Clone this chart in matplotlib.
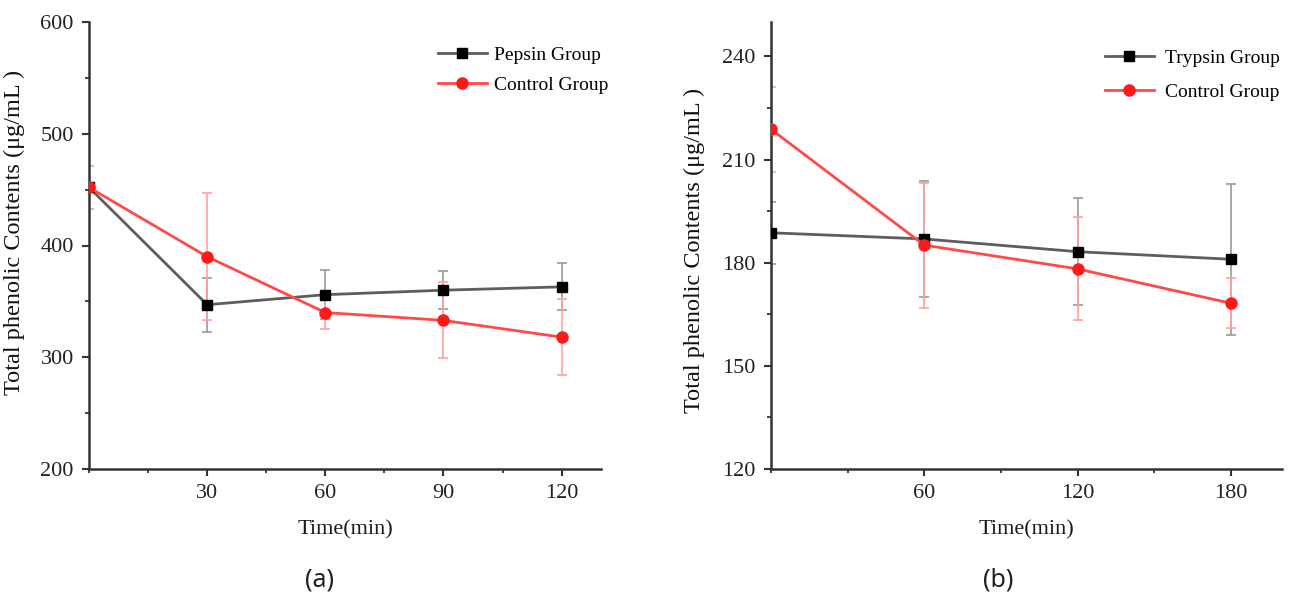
import numpy as np
import matplotlib.pyplot as plt
from matplotlib.ticker import MultipleLocator

# (a) pepsin digestion
time_a = [0, 30, 60, 90, 120]
pepsin = [452, 347, 356, 360, 363]
pepsin_err = [2, 24, 22, 17, 21]
control_a = [452, 390, 340, 333, 318]
control_a_err = [19, 57, 15, 34, 34]

# (b) trypsin digestion
time_b = [0, 60, 120, 180]
trypsin = [188.7, 186.9, 183.2, 181.0]
trypsin_err = [9, 17, 15.6, 22]
control_b = [218.8, 185.1, 178.2, 168.2]
control_b_err = [12.4, 18.2, 15, 7.3]

plt.rcParams['font.family'] = ['Liberation Serif', 'DejaVu Serif']

GRAY = '#5e5e5e'
RED = '#ff4a4a'
YLABEL = 'Total phenolic Contents (μg/mL )'

fig = plt.figure(figsize=(12.98, 6.04), dpi=100)
ax1 = fig.add_axes([89/1298, 1-469/604, 512/1298, 447/604])
ax2 = fig.add_axes([771/1298, 1-469/604, 511/1298, 447/604])


def draw(ax, t, y1, e1, y2, e2, name1):
    ax.errorbar(t, y1, yerr=e1, fmt='none', ecolor='#9a9a9a', elinewidth=1.2,
                capsize=3.5, capthick=1.2, zorder=2)
    ax.errorbar(t, y2, yerr=e2, fmt='none', ecolor='#ffa0a0', elinewidth=1.2,
                capsize=3.5, capthick=1.2, zorder=2)
    ax.plot(t, y1, color=GRAY, lw=2, marker='s', ms=7, mfc='black',
            mec='black', label=name1, zorder=3)
    ax.plot(t, y2, color=RED, lw=2, marker='o', ms=8, mfc='#ff1a1a',
            mec='#ff1a1a', label='Control Group', zorder=4)
    for s in ['top', 'right']:
        ax.spines[s].set_visible(False)
    for s in ['left', 'bottom']:
        ax.spines[s].set_linewidth(1.8)
        ax.spines[s].set_color('#333333')
    ax.tick_params(which='major', direction='out', length=5, width=1.5,
                   colors='#333333', labelsize=16, pad=6)
    ax.tick_params(which='major', labelcolor='#222222')
    ax.tick_params(which='minor', direction='out', length=3, width=1.3,
                   colors='#333333')
    ax.set_xlabel('Time(min)', fontsize=16, color='#1a1a1a', labelpad=12)


draw(ax1, time_a, pepsin, pepsin_err, control_a, control_a_err, 'Pepsin Group')
ax1.set_xlim(0, 130)
ax1.set_ylim(200, 600)
ax1.set_xticks([30, 60, 90, 120])
ax1.xaxis.set_minor_locator(MultipleLocator(15))
ax1.yaxis.set_major_locator(MultipleLocator(100))
ax1.yaxis.set_minor_locator(MultipleLocator(50))
ax1.set_ylabel(YLABEL, fontsize=17.5, color='#111111')
ax1.yaxis.set_label_coords(-0.125, 0.53)

draw(ax2, time_b, trypsin, trypsin_err, control_b, control_b_err, 'Trypsin Group')
ax2.set_xlim(0, 200)
ax2.set_ylim(120, 250)
ax2.set_xticks([60, 120, 180])
ax2.xaxis.set_minor_locator(MultipleLocator(30))
ax2.set_yticks([120, 150, 180, 210, 240])
ax2.yaxis.set_minor_locator(MultipleLocator(15))
ax2.set_ylabel(YLABEL, fontsize=17.5, color='#111111')
ax2.yaxis.set_label_coords(-0.13, 0.49)

ax1.legend(loc='upper left', bbox_to_anchor=(438/1298, 1-46/604),
           bbox_transform=fig.transFigure, frameon=False, fontsize=14,
           handlelength=2.5, handletextpad=0.4, labelspacing=0.65,
           borderpad=0, borderaxespad=0)
ax2.legend(loc='upper left', bbox_to_anchor=(1105/1298, 1-49/604),
           bbox_transform=fig.transFigure, frameon=False, fontsize=14,
           handlelength=2.5, handletextpad=0.6, labelspacing=0.85,
           borderpad=0, borderaxespad=0)

fig.text(320/1298, 1-580/604, '(a)', fontsize=18, family='Noto Sans',
         color='#222222', ha='center', va='center')
fig.text(998/1298, 1-580/604, '(b)', fontsize=18, family='Noto Sans',
         color='#222222', ha='center', va='center')

fig.savefig('out.png', dpi=100)
